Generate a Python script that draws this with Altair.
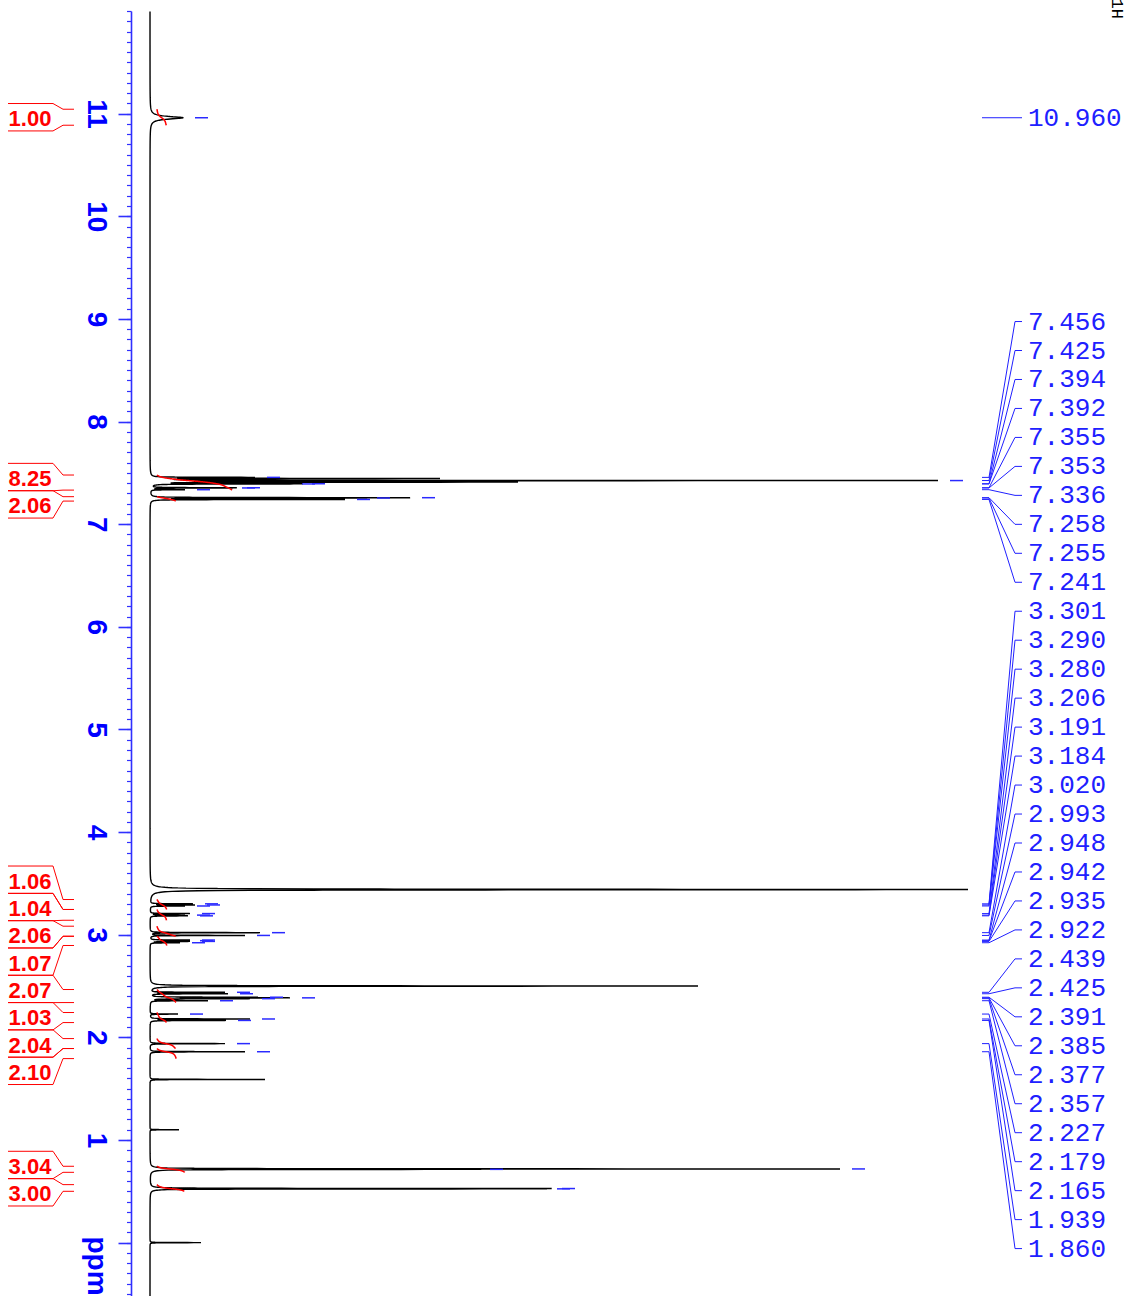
import numpy as np
import pandas as pd
import altair as alt

# ---------------------------------------------------------------- data
# line list of the 1H spectrum: shift (ppm), peak-top height, full width at half height (ppm)
peak_ppm = [10.960,
            7.456, 7.445, 7.425, 7.410, 7.394, 7.392, 7.355, 7.353, 7.336,
            7.258, 7.255, 7.241,
            3.440,
            3.301, 3.290, 3.280, 3.206, 3.191, 3.184,
            3.020, 2.993, 2.948, 2.942, 2.935, 2.922,
            2.500,
            2.439, 2.425, 2.391, 2.385, 2.377, 2.357,
            2.227, 2.179, 2.165, 1.939, 1.860,
            1.590, 1.100,
            0.718, 0.714, 0.527, 0.524,
            0.000]
peak_top = [33,
            105, 290, 788, 368, 150, 140, 85, 80, 35,
            260, 215, 195,
            818,
            43, 45, 35, 40, 35, 38,
            110, 95, 40, 38, 40, 30,
            548,
            75, 78, 108, 140, 100, 58,
            28, 100, 76, 75, 95,
            115, 29,
            690, 328, 400, 395,
            51]
peak_fwhm = ([0.030]
             + [0.003] * 12
             + [0.006]
             + [0.003] * 12
             + [0.004]
             + [0.003] * 11
             + [0.002, 0.002]
             + [0.003] * 4
             + [0.002])

# peak-picking labels
shift_labels = ["10.960",
                "7.456", "7.425", "7.394", "7.392", "7.355", "7.353", "7.336",
                "7.258", "7.255", "7.241",
                "3.301", "3.290", "3.280", "3.206", "3.191", "3.184",
                "3.020", "2.993", "2.948", "2.942", "2.935", "2.922",
                "2.439", "2.425", "2.391", "2.385", "2.377", "2.357",
                "2.227", "2.179", "2.165", "1.939", "1.860"]
# picked lines whose labels fall outside the plot
picked_unlabelled = [0.718, 0.714, 0.527, 0.524]

# integration regions and their relative areas
int_start = [11.043, 7.479, 7.268, 3.343, 3.246, 3.083, 2.985, 2.466, 2.242, 1.988, 1.891, 0.744, 0.565]
int_end = [10.887, 7.332, 7.225, 3.246, 3.141, 2.985, 2.895, 2.339, 2.144, 1.891, 1.793, 0.685, 0.500]
int_value = ["1.00", "8.25", "2.06", "1.06", "1.04", "2.06", "1.07", "2.07", "1.03", "2.04", "2.10", "3.04", "3.00"]

# ---------------------------------------------------------------- geometry
PPM_LO, PPM_HI = -0.52, 12.0
PLOT_W, PLOT_H = 994, 1285
PAD_L, PAD_T = 131, 11
X_LO, X_HI = -19, 975                  # intensity scale, baseline 19 px right of the axis
PX = PLOT_H / (PPM_HI - PPM_LO)        # pixels per ppm
INT_SMOOTH = 0.02                      # extra line width used for the integral traces

C = np.asarray(peak_ppm)
W = np.asarray(peak_fwhm)


def lorentz_matrix(x, w):
    x = np.asarray(x, dtype=float)[:, None]
    g = w[None, :] / 2.0
    return g ** 2 / ((x - C[None, :]) ** 2 + g ** 2)


def solve_amplitudes(targets):
    """Non-negative amplitudes that make each line top reach its height."""
    A = lorentz_matrix(C, W)
    t = np.asarray(targets, dtype=float)
    active = np.ones(len(t), dtype=bool)
    amp = np.zeros(len(t))
    for _ in range(len(t)):
        sol = np.linalg.lstsq(A[:, active], t, rcond=None)[0]
        amp[:] = 0
        amp[active] = sol
        if (sol >= 0).all():
            break
        active[np.where(active)[0][sol < 0]] = False
    return amp


AMP = solve_amplitudes(peak_top)


def spectrum(x):
    return lorentz_matrix(x, W) @ AMP


def smooth_spectrum(x):
    # same areas, broader lines: used for the running integrals
    w2 = W + INT_SMOOTH
    return lorentz_matrix(x, w2) @ (AMP * W / w2)


def spread(targets, gap, floor=None):
    """Stack labels (descending ppm) around their targets without overlap."""
    groups = [[t] for t in targets]

    def place(g):
        m = float(np.mean(g))
        n = len(g)
        return [m + ((n - 1) / 2.0 - k) * gap for k in range(n)]

    merged = True
    while merged:
        merged = False
        pos = [place(g) for g in groups]
        for i in range(len(groups) - 1):
            if pos[i][-1] - pos[i + 1][0] < gap - 1e-9:
                groups[i] = groups[i] + groups[i + 1]
                del groups[i + 1]
                merged = True
                break
    pos = [place(g) for g in groups]
    if floor is not None and pos[-1][-1] < floor:
        shift = floor - pos[-1][-1]
        pos[-1] = [p + shift for p in pos[-1]]
    return [p for g in pos for p in g]


# spectrum trace, sampled densely around each line
grid = [np.arange(PPM_LO, PPM_HI, 0.004)]
for c in peak_ppm:
    grid.append(c + np.linspace(-0.05, 0.05, 51))
    grid.append(c + np.linspace(-0.006, 0.006, 61))
grid = np.unique(np.round(np.concatenate(grid), 5))
grid = grid[(grid >= PPM_LO) & (grid <= PPM_HI)]
spec_df = pd.DataFrame({"ppm": grid, "intensity": np.round(spectrum(grid), 2)})

# integral curves
int_rows = []
for i, (a, b, v) in enumerate(zip(int_start, int_end, int_value)):
    xs = np.linspace(a, b, 400)
    ys = smooth_spectrum(xs)
    cum = np.concatenate([[0.0], np.cumsum((ys[1:] + ys[:-1]) / 2.0)])
    frac = cum / cum[-1]
    for p, f in zip(xs, frac):
        int_rows.append({"id": i, "ppm": round(float(p), 5), "intensity": round(7 + 9.1 * float(v) * f, 2)})
int_df = pd.DataFrame(int_rows)

# integral labels and their brackets
centers = [(a + b) / 2 for a, b in zip(int_start, int_end)]
int_lab_ppm = spread(centers, 27.3 / PX)
half = 13.7 / PX
int_lab_df = pd.DataFrame({"ppm": int_lab_ppm, "label": int_value})
br_rows = []
for i, (lp, a, b) in enumerate(zip(int_lab_ppm, int_start, int_end)):
    for side, (yb, ye) in enumerate([(lp + half, a), (lp - half, b)]):
        for s, (xx, yy) in enumerate([(-142, yb), (-97, yb), (-87, ye), (-76, ye)]):
            br_rows.append({"id": f"{i}-{side}", "seq": s, "intensity": xx, "ppm": yy})
br_df = pd.DataFrame(br_rows)

# peak-pick markers
picked = [float(s) for s in shift_labels] + picked_unlabelled
tips = spectrum(picked)
pick_df = pd.DataFrame({"ppm": picked, "x1": tips + 12, "x2": tips + 25})

# shift labels on the right with their leader lines
lab_targets = [float(s) for s in shift_labels]
lab_ppm = spread(lab_targets, 28.97 / PX, floor=-0.058)
shift_df = pd.DataFrame({"ppm": lab_ppm, "label": shift_labels})
lead_rows = []
for i, (pp, lp) in enumerate(zip(lab_targets, lab_ppm)):
    for s, (xx, yy) in enumerate([(832, pp), (839, pp), (865, lp), (872, lp)]):
        lead_rows.append({"id": i, "seq": s, "intensity": xx, "ppm": yy})
lead_df = pd.DataFrame(lead_rows)

minor_vals = [round(-0.5 + 0.1 * k, 1) for k in range(126)]

# ---------------------------------------------------------------- chart
AX_BLUE = "#3030ff"
yscale = alt.Scale(domain=[PPM_LO, PPM_HI], nice=False, zero=False)
xscale = alt.Scale(domain=[X_LO, X_HI], nice=False, zero=False)

major_axis = alt.Axis(
    orient="left", values=list(range(0, 12)), format="d",
    domainColor=AX_BLUE, domainWidth=1.6,
    tickColor=AX_BLUE, tickWidth=1.6, tickSize=13,
    labelAngle=90, labelAlign="center", labelBaseline="top", labelPadding=9,
    labelFont="Liberation Sans", labelFontSize=28, labelFontWeight="bold",
    labelColor="#0000ff", labelOverlap=False, labelFlush=False,
    labelExpr="datum.value == 0 ? '' : datum.label",
    grid=False,
    title="ppm", titleAngle=90, titleAlign="left", titleBaseline="top",
    titleX=-22, titleY=1225, titleFont="Liberation Sans", titleFontSize=28,
    titleFontWeight="bold", titleColor="#0000ff",
)
minor_axis = alt.Axis(
    orient="left", values=minor_vals, domain=False, labels=False, grid=False,
    tickColor=AX_BLUE, tickWidth=1.2, tickSize=4.5, title=None,
)

spec = alt.Chart(spec_df).mark_line(color="black", strokeWidth=1.4, strokeJoin="bevel").encode(
    y=alt.Y("ppm:Q", scale=yscale, axis=major_axis),
    x=alt.X("intensity:Q", scale=xscale, axis=None),
    order="ppm:Q",
)

integrals = alt.Chart(int_df).mark_line(color="#ff0000", strokeWidth=1.5).encode(
    y=alt.Y("ppm:Q", scale=yscale, axis=minor_axis),
    x=alt.X("intensity:Q", scale=xscale, axis=None),
    detail="id:N",
    order="ppm:Q",
)

brackets = alt.Chart(br_df).mark_line(color="#ff0000", strokeWidth=1).encode(
    y=alt.Y("ppm:Q", scale=yscale, axis=None),
    x=alt.X("intensity:Q", scale=xscale, axis=None),
    detail="id:N",
    order="seq:Q",
)

int_text = alt.Chart(int_lab_df).mark_text(
    font="Liberation Sans", fontSize=22, fontWeight="bold", color="#ff0000",
    align="center", baseline="alphabetic", dy=9,
).encode(
    y=alt.Y("ppm:Q", scale=yscale, axis=None),
    x=alt.value(-101),
    text="label:N",
)

picks = alt.Chart(pick_df).mark_rule(color="#2a2aff", strokeWidth=1.5).encode(
    y=alt.Y("ppm:Q", scale=yscale, axis=None),
    x=alt.X("x1:Q", scale=xscale, axis=None),
    x2="x2:Q",
)

leaders = alt.Chart(lead_df).mark_line(color="#2020ff", strokeWidth=1).encode(
    y=alt.Y("ppm:Q", scale=yscale, axis=None),
    x=alt.X("intensity:Q", scale=xscale, axis=None),
    detail="id:N",
    order="seq:Q",
)

shift_text = alt.Chart(shift_df).mark_text(
    font="Liberation Mono", fontSize=26, color="#2020ff",
    align="left", baseline="middle",
).encode(
    y=alt.Y("ppm:Q", scale=yscale, axis=None),
    x=alt.value(897),
    text="label:N",
)

nucleus = alt.Chart(pd.DataFrame({"t": ["1H"]})).mark_text(
    font="Liberation Mono", fontSize=17, color="black",
    angle=90, align="right", baseline="alphabetic",
).encode(x=alt.value(981), y=alt.value(8), text="t:N")

chart = alt.layer(
    spec, integrals, brackets, int_text, picks, leaders, shift_text, nucleus
).resolve_axis(y="independent").properties(
    width=PLOT_W, height=PLOT_H,
    padding={"left": PAD_L, "top": PAD_T, "right": 0, "bottom": 0},
    autosize=alt.AutoSizeParams(type="none"),
    background="white",
).configure_view(stroke=None)

chart.save("out.html", embed_options={"renderer": "svg", "actions": False})
